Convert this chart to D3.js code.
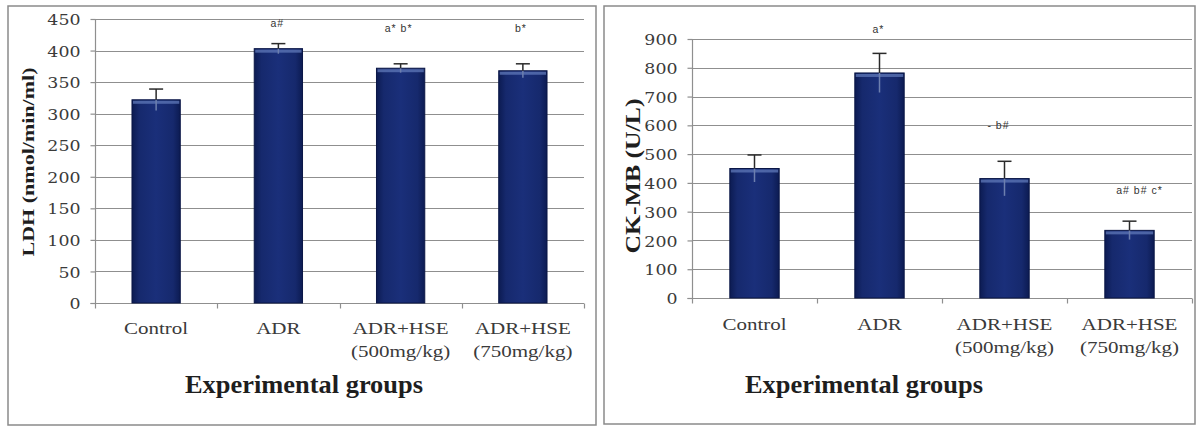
<!DOCTYPE html>
<html><head><meta charset="utf-8">
<script src="https://cdn.jsdelivr.net/npm/d3@7/dist/d3.min.js"></script>
<style>html,body{margin:0;padding:0;background:#fff;}svg{display:block;}</style>
</head><body>
<svg id="c" width="1200" height="428"></svg>
<script>
// ---- data ----
const categories = ["Control", "ADR", "ADR+HSE (500mg/kg)", "ADR+HSE (750mg/kg)"];
const categoryLines = [["Control"], ["ADR"], ["ADR+HSE", "(500mg/kg)"], ["ADR+HSE", "(750mg/kg)"]];
const ldhMean = [322, 403, 372, 368];
const ldhErr = [17, 8, 7, 11];
const ldhSig = ["", "a#", "a* b*", "b*"];
const ldhTicks = [0, 50, 100, 150, 200, 250, 300, 350, 400, 450];
const ckmbMean = [450, 782, 415, 235];
const ckmbErr = [47, 68, 60, 32];
const ckmbSig = ["", "a*", "- b#", "a# b# c*"];
const ckmbTicks = [0, 100, 200, 300, 400, 500, 600, 700, 800, 900];
const xTitle = "Experimental groups";

const svg = d3.select("#c");
const defs = svg.append("defs");
const g = defs.append("linearGradient").attr("id", "barGrad").attr("x1", "0").attr("x2", "1").attr("y1", "0").attr("y2", "0");
g.append("stop").attr("offset", "0").attr("stop-color", "#0c1b52");
g.append("stop").attr("offset", "0.15").attr("stop-color", "#16296d");
g.append("stop").attr("offset", "0.5").attr("stop-color", "#1a2f7a");
g.append("stop").attr("offset", "0.85").attr("stop-color", "#16296d");
g.append("stop").attr("offset", "1").attr("stop-color", "#0c1b52");

function stretch(sel, k) {
  sel.each(function () {
    const w = this.getComputedTextLength();
    if (w > 0) d3.select(this).attr("textLength", w * k).attr("lengthAdjust", "spacingAndGlyphs");
  });
}

function panel(cfg) {
  const root = svg.append("g");
  root.append("rect").attr("x", cfg.box[0]).attr("y", cfg.box[1]).attr("width", cfg.box[2]).attr("height", cfg.box[3])
    .attr("fill", "#fff").attr("stroke", "#8a8a8a").attr("stroke-width", 1.5);

  const x = d3.scaleBand().domain(categories).range([cfg.x0, cfg.x1]).paddingInner(0.605).paddingOuter(0.3025);
  const xb = d3.scaleBand().domain(categories).range([cfg.x0, cfg.x1]).padding(0);
  const y = d3.scaleLinear().domain([0, cfg.max]).range([cfg.y0, cfg.y1]);

  // gridlines
  root.append("g").selectAll("line").data(cfg.ticks.slice(1)).join("line")
    .attr("x1", cfg.x0).attr("x2", cfg.x1).attr("y1", d => Math.round(y(d)) + 0.5).attr("y2", d => Math.round(y(d)) + 0.5)
    .attr("stroke", "#8f8f8f").attr("stroke-width", 1.2);

  // y axis
  const ya = root.append("g").attr("transform", `translate(${cfg.x0 + 0.5},0)`)
    .call(d3.axisLeft(y).tickValues(cfg.ticks).tickSize(5).tickPadding(10).tickFormat(d3.format("d")));
  ya.selectAll("path,line").attr("stroke", "#8f8f8f").attr("stroke-width", 1.2);
  ya.select(".domain").attr("d", `M-5,${Math.round(cfg.y0)+0.5}H0V${Math.round(cfg.y1)}`);
  ya.selectAll("text").attr("font-family", "DejaVu Serif").attr("font-size", 15.5).attr("fill", "#3a3a3a").attr("dy", "0.36em");
  stretch(ya.selectAll("text"), 1.12);

  // x axis
  const xa = root.append("g").attr("transform", `translate(0,${Math.round(cfg.y0) + 0.5})`);
  xa.append("line").attr("x1", cfg.x0).attr("x2", cfg.x1).attr("stroke", "#8f8f8f").attr("stroke-width", 1.2);
  const bounds = categories.map(c => xb(c)).concat([cfg.x1]);
  xa.selectAll(".tk").data(bounds).join("line").attr("class", "tk")
    .attr("x1", d => Math.round(d) + 0.5).attr("x2", d => Math.round(d) + 0.5).attr("y1", 0).attr("y2", 5)
    .attr("stroke", "#8f8f8f").attr("stroke-width", 1.2);

  const lab = root.append("g");
  categories.forEach((c, i) => {
    categoryLines[i].forEach((t, j) => {
      lab.append("text").attr("x", xb(c) + xb.bandwidth() / 2).attr("y", cfg.labY + j * 23)
        .attr("text-anchor", "middle").attr("font-family", "Liberation Serif").attr("font-size", 17.5)
        .attr("fill", "#3a3a3a").text(t);
    });
  });
  stretch(lab.selectAll("text"), 1.2);

  // bars
  const data = cfg.mean.map((m, i) => ({ c: categories[i], m, e: cfg.err[i], s: cfg.sig[i] }));
  root.append("g").selectAll("rect").data(data).join("rect")
    .attr("x", d => x(d.c)).attr("width", x.bandwidth())
    .attr("y", d => y(d.m)).attr("height", d => y(0) - y(d.m))
    .attr("fill", "url(#barGrad)").attr("stroke", "#0a1646").attr("stroke-width", 1);
  root.append("g").selectAll("rect").data(data).join("rect")
    .attr("x", d => x(d.c) + 1).attr("width", x.bandwidth() - 2)
    .attr("y", d => y(d.m) + 1).attr("height", 3)
    .attr("fill", "#5f78b8").attr("opacity", 0.75);

  // error bars
  const eb = root.append("g");
  eb.selectAll(".lo").data(data).join("line").attr("class", "lo")
    .attr("x1", d => x(d.c) + x.bandwidth() / 2).attr("x2", d => x(d.c) + x.bandwidth() / 2)
    .attr("y1", d => y(d.m)).attr("y2", d => y(d.m - d.e))
    .attr("stroke", "#6d7fae").attr("stroke-width", 1.5);
  eb.selectAll(".hi").data(data).join("line").attr("class", "hi")
    .attr("x1", d => x(d.c) + x.bandwidth() / 2).attr("x2", d => x(d.c) + x.bandwidth() / 2)
    .attr("y1", d => y(d.m)).attr("y2", d => y(d.m + d.e))
    .attr("stroke", "#2a2a2a").attr("stroke-width", 1.5);
  eb.selectAll(".cap").data(data).join("line").attr("class", "cap")
    .attr("x1", d => x(d.c) + x.bandwidth() / 2 - 7).attr("x2", d => x(d.c) + x.bandwidth() / 2 + 7)
    .attr("y1", d => y(d.m + d.e)).attr("y2", d => y(d.m + d.e))
    .attr("stroke", "#2a2a2a").attr("stroke-width", 1.5);

  // significance labels
  const sg = root.append("g").selectAll("text").data(data.filter(d => d.s)).join("text")
    .attr("x", (d) => x(d.c) + x.bandwidth() / 2 + (cfg.sigDx[categories.indexOf(d.c)] || 0))
    .attr("y", d => cfg.sigY[categories.indexOf(d.c)])
    .attr("text-anchor", "middle").attr("font-family", "Liberation Sans").attr("font-size", 10.5)
    .attr("fill", "#333").attr("letter-spacing", 1).text(d => d.s);

  // y title
  root.append("text").attr("transform", `translate(${cfg.yTitleX},${cfg.yTitleY}) rotate(-90)`)
    .attr("text-anchor", "middle").attr("font-family", "Liberation Serif").attr("font-weight", "bold")
    .attr("font-size", cfg.yTitleSize).attr("fill", "#1e1e1e")
    .attr("textLength", cfg.yTitleLen).attr("lengthAdjust", "spacingAndGlyphs").text(cfg.yTitle);

  // x title
  root.append("text").attr("x", cfg.xTitleX).attr("y", 393).attr("text-anchor", "middle")
    .attr("font-family", "Liberation Serif").attr("font-weight", "bold").attr("font-size", 25)
    .attr("fill", "#1e1e1e").attr("textLength", 238).attr("lengthAdjust", "spacingAndGlyphs").text(xTitle);
}

panel({
  box: [8, 6, 588, 419], x0: 95, x1: 584, y0: 303, y1: 19, max: 450, ticks: ldhTicks,
  mean: ldhMean, err: ldhErr, sig: ldhSig, sigY: [0, 27, 32, 32], sigDx: [0, -1, -2, -2],
  labY: 334, yTitle: "LDH (nmol/min/ml)", yTitleX: 34, yTitleY: 162, yTitleSize: 17, yTitleLen: 189,
  xTitleX: 304
});
panel({
  box: [604, 6, 591, 418], x0: 692, x1: 1192, y0: 298, y1: 39, max: 900, ticks: ckmbTicks,
  mean: ckmbMean, err: ckmbErr, sig: ckmbSig, sigY: [0, 33, 129, 194], sigDx: [0, -1, -6, 10],
  labY: 330, yTitle: "CK-MB (U/L)", yTitleX: 640, yTitleY: 176, yTitleSize: 21, yTitleLen: 155,
  xTitleX: 864
});
</script>
</body></html>
